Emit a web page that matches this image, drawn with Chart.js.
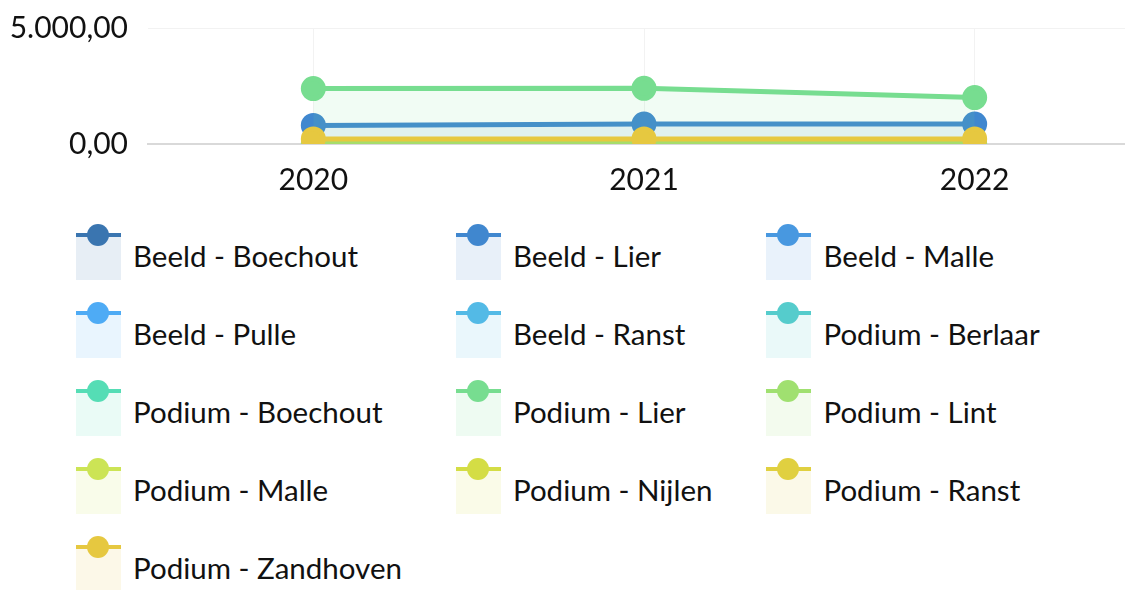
<!DOCTYPE html>
<html>
<head>
<meta charset="utf-8">
<script src="https://cdn.jsdelivr.net/npm/chart.js@4"></script>
<style>
  body { margin: 0; background: #fff; overflow: hidden; font-family: Lato, sans-serif; }
  .chart__box { position: relative; width: 1155px; height: 216px; }
  .legend { display: grid; grid-template-columns: repeat(3, auto); justify-content: start;
            column-gap: 54px; row-gap: 33px; margin: 17px 0 0 76px; }
  .legend__item { display: flex; align-items: center; height: 45px; font-size: 29.5px; color: #111; }
  .legend__mark { position: relative; width: 45px; height: 45px; margin-right: 12px; }
  .legend__mark .fill { position: absolute; left: 0; top: 2px; width: 45px; height: 45px; }
  .legend__mark .bar { position: absolute; left: 0; top: 0; width: 45px; height: 4px; }
  .legend__mark .dot { position: absolute; left: 11px; top: -9px; width: 22px; height: 22px; border-radius: 50%; }
</style>
</head>
<body>
<div class="chart__box"><canvas id="lineChart"></canvas></div>
<div class="legend"></div>
<script>
const years = ["2020", "2021", "2022"];

const seriesNames = [
  "Beeld - Boechout", "Beeld - Lier", "Beeld - Malle", "Beeld - Pulle", "Beeld - Ranst",
  "Podium - Berlaar", "Podium - Boechout", "Podium - Lier", "Podium - Lint",
  "Podium - Malle", "Podium - Nijlen", "Podium - Ranst", "Podium - Zandhoven",
];

const seriesColors = [
  "58, 117, 176", "64, 135, 207", "72, 152, 224", "78, 171, 245", "83, 186, 230",
  "85, 204, 204", "85, 221, 181", "119, 221, 144", "160, 224, 112",
  "204, 228, 85", "212, 221, 69", "224, 208, 64", "230, 200, 64",
];

// most series have no figures for these years
const seriesValues = [
  [null, null, null],
  [800, 860, 860],
  [null, null, null],
  [null, null, null],
  [null, null, null],
  [null, null, null],
  [null, null, null],
  [2390, 2400, 2000],
  [20, 20, 20],
  [null, null, null],
  [null, null, null],
  [null, null, null],
  [220, 220, 220],
];

const yTicks = [0, 5000];

const fmt = (v) => v.toLocaleString("nl-BE", { minimumFractionDigits: 2, maximumFractionDigits: 2 });

const datasets = seriesNames.map((name, i) => ({
  label: name,
  data: seriesValues[i],
  order: seriesNames.length - i,
  borderColor: `rgb(${seriesColors[i]})`,
  backgroundColor: `rgba(${seriesColors[i]}, 0.1)`,
  pointBackgroundColor: `rgb(${seriesColors[i]})`,
  pointBorderColor: `rgb(${seriesColors[i]})`,
  borderWidth: 5,
  pointRadius: 10,
  tension: 0,
  fill: "origin",
}));

const lineChart = new Chart(document.getElementById("lineChart"), {
  type: "line",
  data: { labels: years, datasets: datasets },
  options: {
    responsive: true,
    maintainAspectRatio: false,
    animation: false,
    layout: { padding: { top: 28, left: 0, right: 0 } },
    plugins: { legend: { display: false }, tooltip: { enabled: false } },
    scales: {
      x: {
        offset: true,
        grid: { offset: false, color: "#f2f2f2", drawTicks: false },
        border: { color: "#d9d9d9", width: 2 },
        ticks: { color: "#111", font: { family: "Lato", size: 30 }, padding: 18 },
      },
      y: {
        min: yTicks[0],
        max: yTicks[1],
        afterFit: (axis) => {
          axis.width = 148;
          axis.paddingTop = 0;
          axis.paddingBottom = 0;
        },
        afterBuildTicks: (axis) => { axis.ticks = yTicks.map((v) => ({ value: v })); },
        grid: { color: "#f2f2f2", drawTicks: false },
        border: { display: false },
        ticks: { color: "#111", font: { family: "Lato", size: 30 }, padding: 20, callback: (v) => fmt(v) },
      },
    },
  },
});

// html legend
const legendBox = document.querySelector(".legend");
seriesNames.forEach((name, i) => {
  const item = document.createElement("div");
  item.className = "legend__item";
  item.innerHTML = `
    <div class="legend__mark">
      <div class="fill" style="background: rgba(${seriesColors[i]}, 0.12)"></div>
      <div class="bar" style="background: rgb(${seriesColors[i]})"></div>
      <div class="dot" style="background: rgb(${seriesColors[i]})"></div>
    </div>
    <span>${name}</span>`;
  legendBox.appendChild(item);
});
</script>
</body>
</html>
